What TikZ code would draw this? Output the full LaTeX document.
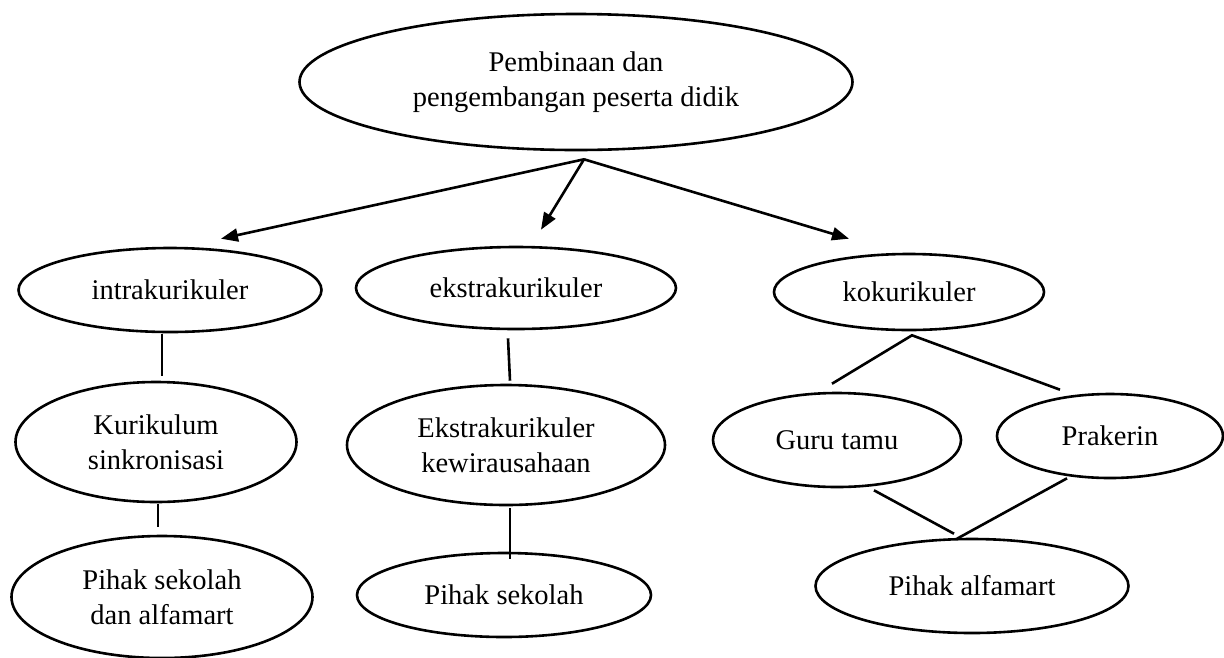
\documentclass[tikz,border=0pt]{standalone}
\usepackage{fontspec}
\setmainfont{Liberation Serif}
\usetikzlibrary{shapes.geometric,arrows.meta,calc}
\begin{document}
\begin{tikzpicture}[x=1pt,y=-1pt,
  box/.style={draw,ellipse,line width=2.6pt,inner sep=0pt,align=center,
    font=\fontsize{28.5}{35}\selectfont},
  link/.style={line width=2.6pt},
  arr/.style={line width=2.6pt,-{Triangle[length=17pt,width=13pt]}}]
\useasboundingbox (0,0) rectangle (1224,657);
\fill[white] (0,0) rectangle (1224,657);

% nodes
\node[box,minimum width=553pt,minimum height=136pt] (top) at (576,82)
  {Pembinaan dan\\pengembangan peserta didik};
\node[box,minimum width=303pt,minimum height=84pt] (intra) at (170,290) {intrakurikuler};
\node[box,minimum width=320pt,minimum height=82pt] (ekstra) at (516,288) {ekstrakurikuler};
\node[box,minimum width=270pt,minimum height=76pt] (koku) at (909,292) {kokurikuler};
\node[box,minimum width=281pt,minimum height=120pt] (kur) at (156,442) {Kurikulum\\sinkronisasi};
\node[box,minimum width=301pt,minimum height=122pt] (phk1) at (162,597) {Pihak sekolah\\dan alfamart};
\node[box,minimum width=318pt,minimum height=120pt] (ekw) at (506,445) {Ekstrakurikuler\\kewirausahaan};
\node[box,minimum width=294pt,minimum height=84pt] (phk2) at (504,595) {Pihak sekolah};
\node[box,minimum width=248pt,minimum height=94pt] (guru) at (837,440) {Guru tamu};
\node[box,minimum width=226pt,minimum height=84pt] (prak) at (1110,436) {Prakerin};
\node[box,minimum width=313pt,minimum height=94pt] (alfa) at (972,586) {Pihak alfamart};

% helper coordinates
\coordinate (apex) at ($(top.south)+(8,8)$);
\coordinate (kapex) at ($(koku.south)+(3,4)$);

% arrows from top
\draw[arr] (apex) -- ($(intra.north)+(51,-8)$);
\draw[arr] (apex) -- ($(ekstra.north)+(25,-16)$);
\draw[arr] (apex) -- ($(koku.north)+(-60,-14)$);

% intrakurikuler chain
\draw[link] ($(intra.south)+(-8,1)$) -- ($(kur.north)+(6,-5)$);
\draw[link] ($(kur.south)+(2,1)$) -- ($(phk1.north)+(-4,-8)$);

% ekstrakurikuler chain
\draw[link] ($(ekstra.south)+(-8,8)$) -- ($(ekw.north)+(4,-3)$);
\draw[link] ($(ekw.south)+(4,2)$) -- ($(phk2.north)+(6,7)$);

% kokurikuler
\draw[link] ($(guru.north)+(-5,-8)$) -- (kapex) -- ($(prak.north)+(-50,-3)$);
\draw[link] ($(guru.south)+(37,2)$) -- ($(alfa.north)+(-18,-4)$);
\draw[link] ($(prak.south)+(-43,-1)$) -- ($(alfa.north)+(-15,1)$);
\end{tikzpicture}
\end{document}
